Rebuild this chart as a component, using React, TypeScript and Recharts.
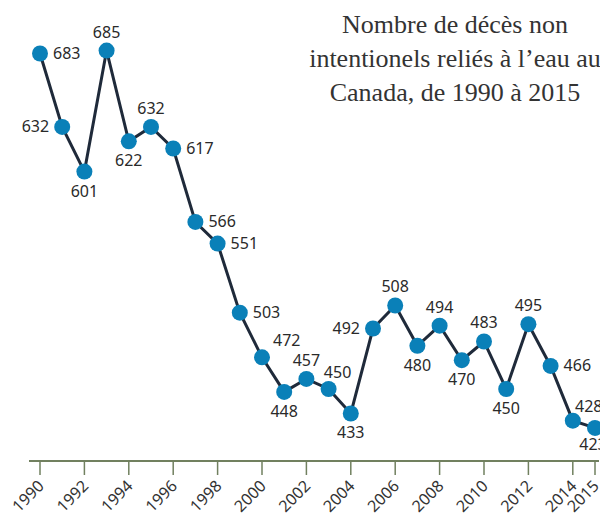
import React from "react";
import { LineChart, Line, XAxis, YAxis, LabelList } from "recharts";

const years = [1990, 1991, 1992, 1993, 1994, 1995, 1996, 1997, 1998, 1999, 2000, 2001, 2002, 2003, 2004, 2005, 2006, 2007, 2008, 2009, 2010, 2011, 2012, 2013, 2014, 2015];
const deaths = [683, 632, 601, 685, 622, 632, 617, 566, 551, 503, 472, 448, 457, 450, 433, 492, 508, 480, 494, 470, 483, 450, 495, 466, 428, 423];
const tickYears = [1990, 1992, 1994, 1996, 1998, 2000, 2002, 2004, 2006, 2008, 2010, 2012, 2014, 2015];
const titleLines = ["Nombre de décès non", "intentionels reliés à l’eau au", "Canada, de 1990 à 2015"];

// label side for each point (style only)
const labelSide = ["right", "left", "below", "above", "below", "above", "right", "right", "right", "right", "rightUp", "below", "above", "aboveRightNear", "below", "left", "above", "below", "above", "below", "above", "below", "above", "right", "aboveRight", "belowLeft"];

const data = years.map((y, i) => ({ year: y, deaths: deaths[i] }));

const LINE = "#1f2a3a";
const DOT = "#0a80b8";
const AXIS = "#71805f";
const SANS = "'Noto Sans', 'Open Sans', sans-serif";

const renderLabel = (props: any) => {
  const { x, y, value, index } = props;
  const side = labelSide[index];
  let dx = 0, dy = 0, anchor: any = "middle";
  if (side === "right") { dx = 13; dy = 5.5; anchor = "start"; }
  else if (side === "rightUp") { dx = 11; dy = -11; anchor = "start"; }
  else if (side === "left") { dx = -13; dy = 5.5; anchor = "end"; }
  else if (side === "above") { dy = -13; }
  else if (side === "below") { dy = 25; }
  else if (side === "belowLeft") { dx = -2; dy = 22; }
  else if (side === "aboveRight") { dx = 16; dy = -9; }
  else if (side === "aboveRightNear") { dx = 9; dy = -11; }
  return (
    <text x={x + dx} y={y + dy} textAnchor={anchor} fontFamily={SANS} fontSize={16} fill="#2a2a2a">
      {value}
    </text>
  );
};

const renderTick = (props: any) => {
  const { x, y, payload } = props;
  return (
    <g transform={`translate(${x + 5},${y + 10})`}>
      <text x={0} y={0} textAnchor="end" transform="rotate(-45)" fontFamily={SANS} fontSize={16} fill="#333">
        {payload.value}
      </text>
    </g>
  );
};

export default function App() {
  return (
    <div style={{ position: "relative", width: 600, height: 508 }}>
      <LineChart width={600} height={508} data={data} margin={{ top: 21, right: 9, bottom: 5, left: 21 }}>
        <XAxis
          dataKey="year"
          type="number"
          domain={[1990, 2015]}
          padding={{ left: 11, right: 4 }}
          ticks={tickYears}
          interval={0}
          axisLine={{ stroke: AXIS, strokeWidth: 2 }}
          tickLine={{ stroke: AXIS, strokeWidth: 1.5 }}
          tickSize={14}
          height={50}
          tick={renderTick}
        />
        <YAxis domain={[400, 700]} allowDataOverflow hide />
        <Line
          dataKey="deaths"
          stroke={LINE}
          strokeWidth={3}
          isAnimationActive={false}
          activeDot={false}
          dot={{ r: 8, fill: DOT, stroke: "none" }}
        >
          <LabelList dataKey="deaths" content={renderLabel} />
        </Line>
      </LineChart>
      <div
        style={{
          position: "absolute",
          left: 277,
          top: 0,
          width: 340,
          textAlign: "center",
          fontFamily: "'Liberation Serif', serif",
          fontSize: 26,
          lineHeight: "34px",
          color: "#333",
        }}
      >
        {titleLines.map((t, i) => (
          <div key={i}>{t}</div>
        ))}
      </div>
    </div>
  );
}
